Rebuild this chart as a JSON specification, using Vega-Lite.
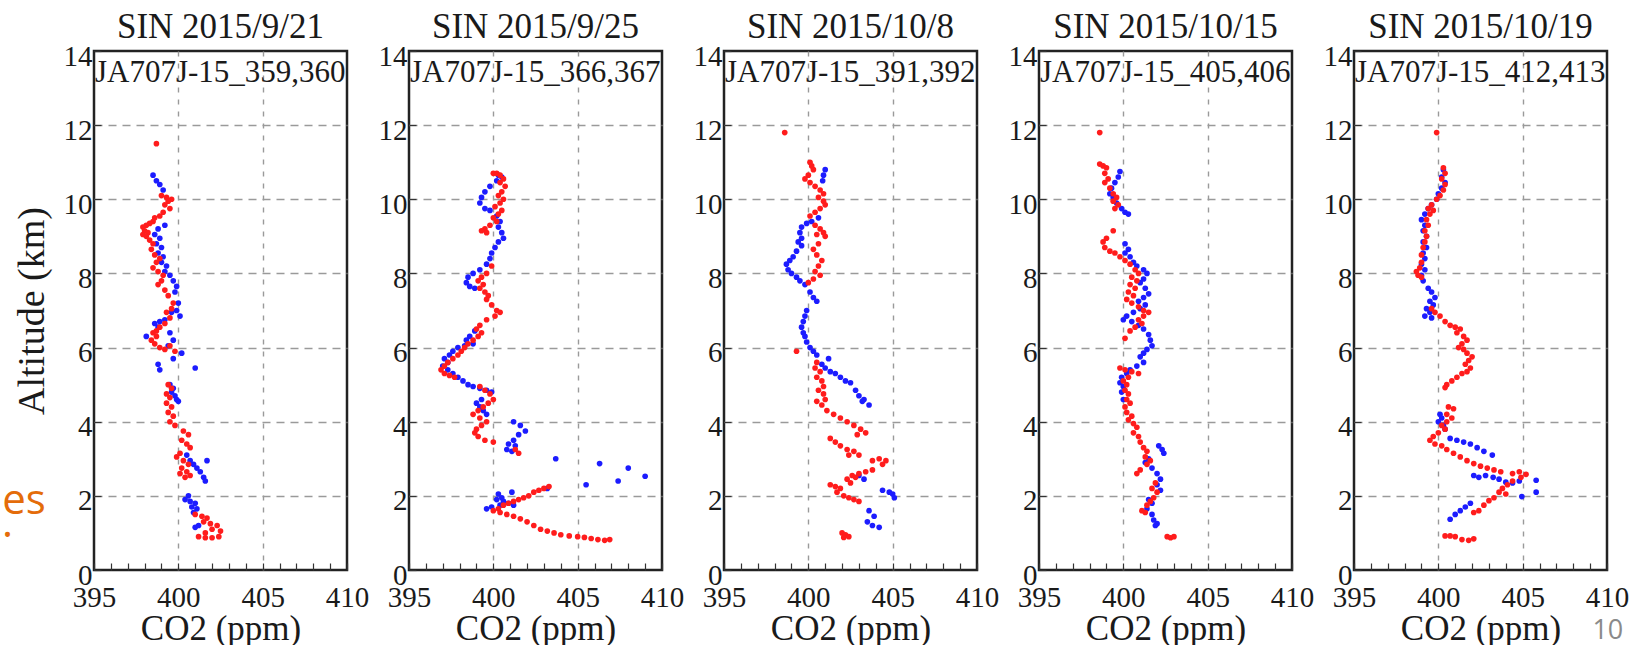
{
"$schema": "https://vega.github.io/schema/vega-lite/v6.json",
"background": "white",
"padding": {"left": 0, "top": 8, "right": 0, "bottom": 0},
"spacing": 62,
"bounds": "flush",
"config": {
  "font": "Liberation Serif",
  "view": {"stroke": "#222", "strokeWidth": 2.5},
  "title": {"font": "Liberation Serif", "fontSize": 35, "fontWeight": "normal", "color": "#1a1a1a", "baseline": "alphabetic", "offset": -3, "frame": "group", "anchor": "middle"},
  "axis": {"labelFont": "Liberation Serif", "titleFont": "Liberation Serif", "labelColor": "#1a1a1a", "titleColor": "#1a1a1a", "titleFontWeight": "normal", "labelFontSize": 29, "domain": false, "tickColor": "#333", "tickWidth": 1.2, "tickSize": -7, "labelFlush": false, "labelOverlap": false, "grid": true, "gridColor": "#9a9a9a", "gridWidth": 1.4},
  "axisX": {"labelPadding": 20, "titleFontSize": 35, "titlePadding": -1, "gridDash": [5, 7]},
  "axisY": {"labelPadding": 9, "labelOffset": 5, "titleFontSize": 38, "titlePadding": 12, "gridDash": [8, 6]}
},
"datasets": {
"labels": [
{"p":1,"lab":"JA707J-15_359,360"},{"p":2,"lab":"JA707J-15_366,367"},{"p":3,"lab":"JA707J-15_391,392"},{"p":4,"lab":"JA707J-15_405,406"},{"p":5,"lab":"JA707J-15_412,413"}
],
"profiles": [
{"p":1,"s":"a","co2":398.5,"alt":10.65},{"p":1,"s":"a","co2":398.7,"alt":10.5},{"p":1,"s":"a","co2":398.9,"alt":10.4},{"p":1,"s":"a","co2":399.1,"alt":10.25},{"p":1,"s":"a","co2":399.2,"alt":9.3},{"p":1,"s":"a","co2":398.8,"alt":9.2},{"p":1,"s":"a","co2":398.6,"alt":9.05},{"p":1,"s":"a","co2":398.9,"alt":8.95},{"p":1,"s":"a","co2":398.7,"alt":8.8},{"p":1,"s":"a","co2":399.0,"alt":8.7},{"p":1,"s":"a","co2":398.8,"alt":8.55},{"p":1,"s":"a","co2":399.1,"alt":8.45},{"p":1,"s":"a","co2":399.0,"alt":8.3},{"p":1,"s":"a","co2":399.3,"alt":8.2},{"p":1,"s":"a","co2":399.2,"alt":8.05},{"p":1,"s":"a","co2":399.5,"alt":7.95},{"p":1,"s":"a","co2":399.7,"alt":7.8},{"p":1,"s":"a","co2":399.9,"alt":7.65},{"p":1,"s":"a","co2":399.8,"alt":7.5},{"p":1,"s":"a","co2":400.0,"alt":7.2},{"p":1,"s":"a","co2":399.9,"alt":7.0},{"p":1,"s":"a","co2":400.1,"alt":6.85},{"p":1,"s":"a","co2":399.6,"alt":6.95},{"p":1,"s":"a","co2":399.2,"alt":6.75},{"p":1,"s":"a","co2":398.9,"alt":6.7},{"p":1,"s":"a","co2":398.6,"alt":6.65},{"p":1,"s":"a","co2":398.8,"alt":6.55},{"p":1,"s":"a","co2":398.1,"alt":6.3},{"p":1,"s":"a","co2":399.5,"alt":6.4},{"p":1,"s":"a","co2":399.7,"alt":6.2},{"p":1,"s":"a","co2":399.4,"alt":6.05},{"p":1,"s":"a","co2":400.2,"alt":5.85},{"p":1,"s":"a","co2":399.7,"alt":5.7},{"p":1,"s":"a","co2":398.8,"alt":5.55},{"p":1,"s":"a","co2":398.9,"alt":5.4},{"p":1,"s":"a","co2":401.0,"alt":5.45},{"p":1,"s":"a","co2":399.5,"alt":5.0},{"p":1,"s":"a","co2":399.7,"alt":4.9},{"p":1,"s":"a","co2":399.6,"alt":4.8},{"p":1,"s":"a","co2":399.8,"alt":4.7},{"p":1,"s":"a","co2":399.9,"alt":4.6},{"p":1,"s":"a","co2":400.0,"alt":4.55},{"p":1,"s":"a","co2":400.5,"alt":3.1},{"p":1,"s":"a","co2":400.7,"alt":2.95},{"p":1,"s":"a","co2":400.9,"alt":2.85},{"p":1,"s":"a","co2":401.1,"alt":2.75},{"p":1,"s":"a","co2":401.3,"alt":2.65},{"p":1,"s":"a","co2":401.5,"alt":2.5},{"p":1,"s":"a","co2":401.6,"alt":2.4},{"p":1,"s":"a","co2":401.7,"alt":2.95},{"p":1,"s":"a","co2":400.6,"alt":2.0},{"p":1,"s":"a","co2":400.4,"alt":1.9},{"p":1,"s":"a","co2":400.7,"alt":1.85},{"p":1,"s":"a","co2":401.0,"alt":1.8},{"p":1,"s":"a","co2":400.8,"alt":1.7},{"p":1,"s":"a","co2":401.1,"alt":1.65},{"p":1,"s":"a","co2":400.9,"alt":1.55},{"p":1,"s":"a","co2":401.2,"alt":1.2},{"p":1,"s":"a","co2":401.0,"alt":1.15},
{"p":1,"s":"b","co2":398.7,"alt":11.5},{"p":1,"s":"b","co2":399.0,"alt":10.1},{"p":1,"s":"b","co2":399.3,"alt":10.05},{"p":1,"s":"b","co2":399.6,"alt":10.0},{"p":1,"s":"b","co2":399.4,"alt":9.95},{"p":1,"s":"b","co2":399.2,"alt":9.85},{"p":1,"s":"b","co2":399.5,"alt":9.75},{"p":1,"s":"b","co2":399.1,"alt":9.65},{"p":1,"s":"b","co2":398.9,"alt":9.55},{"p":1,"s":"b","co2":398.6,"alt":9.5},{"p":1,"s":"b","co2":398.5,"alt":9.4},{"p":1,"s":"b","co2":398.3,"alt":9.35},{"p":1,"s":"b","co2":398.1,"alt":9.3},{"p":1,"s":"b","co2":397.9,"alt":9.25},{"p":1,"s":"b","co2":398.0,"alt":9.15},{"p":1,"s":"b","co2":398.2,"alt":9.1},{"p":1,"s":"b","co2":397.9,"alt":9.05},{"p":1,"s":"b","co2":398.1,"alt":9.0},{"p":1,"s":"b","co2":398.3,"alt":8.9},{"p":1,"s":"b","co2":398.5,"alt":8.8},{"p":1,"s":"b","co2":398.4,"alt":8.65},{"p":1,"s":"b","co2":398.6,"alt":8.5},{"p":1,"s":"b","co2":398.9,"alt":8.4},{"p":1,"s":"b","co2":398.7,"alt":8.3},{"p":1,"s":"b","co2":398.5,"alt":8.15},{"p":1,"s":"b","co2":398.8,"alt":8.05},{"p":1,"s":"b","co2":399.1,"alt":7.95},{"p":1,"s":"b","co2":399.0,"alt":7.8},{"p":1,"s":"b","co2":398.8,"alt":7.7},{"p":1,"s":"b","co2":399.2,"alt":7.55},{"p":1,"s":"b","co2":399.4,"alt":7.4},{"p":1,"s":"b","co2":399.7,"alt":7.2},{"p":1,"s":"b","co2":399.6,"alt":7.05},{"p":1,"s":"b","co2":399.3,"alt":6.95},{"p":1,"s":"b","co2":399.5,"alt":6.8},{"p":1,"s":"b","co2":399.2,"alt":6.65},{"p":1,"s":"b","co2":398.9,"alt":6.55},{"p":1,"s":"b","co2":398.7,"alt":6.45},{"p":1,"s":"b","co2":398.5,"alt":6.4},{"p":1,"s":"b","co2":398.7,"alt":6.3},{"p":1,"s":"b","co2":398.4,"alt":6.2},{"p":1,"s":"b","co2":398.6,"alt":6.1},{"p":1,"s":"b","co2":398.9,"alt":6.0},{"p":1,"s":"b","co2":399.2,"alt":5.95},{"p":1,"s":"b","co2":399.5,"alt":6.05},{"p":1,"s":"b","co2":399.8,"alt":5.9},{"p":1,"s":"b","co2":399.4,"alt":5.0},{"p":1,"s":"b","co2":399.6,"alt":4.9},{"p":1,"s":"b","co2":399.3,"alt":4.75},{"p":1,"s":"b","co2":399.5,"alt":4.65},{"p":1,"s":"b","co2":399.3,"alt":4.5},{"p":1,"s":"b","co2":399.6,"alt":4.4},{"p":1,"s":"b","co2":399.4,"alt":4.25},{"p":1,"s":"b","co2":399.7,"alt":4.15},{"p":1,"s":"b","co2":399.5,"alt":4.0},{"p":1,"s":"b","co2":399.8,"alt":3.9},{"p":1,"s":"b","co2":400.3,"alt":3.75},{"p":1,"s":"b","co2":400.6,"alt":3.65},{"p":1,"s":"b","co2":400.2,"alt":3.5},{"p":1,"s":"b","co2":400.5,"alt":3.4},{"p":1,"s":"b","co2":400.7,"alt":3.3},{"p":1,"s":"b","co2":400.1,"alt":3.15},{"p":1,"s":"b","co2":399.9,"alt":3.05},{"p":1,"s":"b","co2":400.3,"alt":2.95},{"p":1,"s":"b","co2":400.6,"alt":2.85},{"p":1,"s":"b","co2":400.2,"alt":2.75},{"p":1,"s":"b","co2":400.5,"alt":2.65},{"p":1,"s":"b","co2":400.1,"alt":2.6},{"p":1,"s":"b","co2":400.4,"alt":2.5},{"p":1,"s":"b","co2":400.7,"alt":2.55},{"p":1,"s":"b","co2":401.0,"alt":1.5},{"p":1,"s":"b","co2":401.4,"alt":1.45},{"p":1,"s":"b","co2":401.7,"alt":1.4},{"p":1,"s":"b","co2":401.5,"alt":1.3},{"p":1,"s":"b","co2":401.9,"alt":1.25},{"p":1,"s":"b","co2":402.3,"alt":1.2},{"p":1,"s":"b","co2":402.0,"alt":1.1},{"p":1,"s":"b","co2":401.6,"alt":1.0},{"p":1,"s":"b","co2":401.2,"alt":0.9},{"p":1,"s":"b","co2":401.6,"alt":0.87},{"p":1,"s":"b","co2":402.0,"alt":0.87},{"p":1,"s":"b","co2":402.4,"alt":0.9},{"p":1,"s":"b","co2":402.5,"alt":1.05},
{"p":2,"s":"a","co2":400.3,"alt":10.65},{"p":2,"s":"a","co2":400.5,"alt":10.6},{"p":2,"s":"a","co2":400.2,"alt":10.5},{"p":2,"s":"a","co2":399.8,"alt":10.35},{"p":2,"s":"a","co2":399.5,"alt":10.2},{"p":2,"s":"a","co2":399.3,"alt":10.05},{"p":2,"s":"a","co2":399.2,"alt":9.9},{"p":2,"s":"a","co2":399.5,"alt":9.75},{"p":2,"s":"a","co2":399.8,"alt":9.7},{"p":2,"s":"a","co2":400.2,"alt":9.55},{"p":2,"s":"a","co2":400.4,"alt":9.4},{"p":2,"s":"a","co2":400.3,"alt":9.25},{"p":2,"s":"a","co2":400.5,"alt":9.1},{"p":2,"s":"a","co2":400.6,"alt":8.95},{"p":2,"s":"a","co2":400.3,"alt":8.85},{"p":2,"s":"a","co2":400.1,"alt":8.7},{"p":2,"s":"a","co2":399.9,"alt":8.55},{"p":2,"s":"a","co2":399.8,"alt":8.4},{"p":2,"s":"a","co2":399.6,"alt":8.25},{"p":2,"s":"a","co2":399.2,"alt":8.1},{"p":2,"s":"a","co2":398.8,"alt":8.0},{"p":2,"s":"a","co2":398.5,"alt":7.9},{"p":2,"s":"a","co2":398.4,"alt":7.75},{"p":2,"s":"a","co2":398.6,"alt":7.65},{"p":2,"s":"a","co2":398.9,"alt":7.6},{"p":2,"s":"a","co2":398.9,"alt":6.45},{"p":2,"s":"a","co2":398.6,"alt":6.3},{"p":2,"s":"a","co2":398.4,"alt":6.2},{"p":2,"s":"a","co2":398.8,"alt":6.1},{"p":2,"s":"a","co2":398.3,"alt":6.05},{"p":2,"s":"a","co2":397.9,"alt":6.0},{"p":2,"s":"a","co2":397.6,"alt":5.9},{"p":2,"s":"a","co2":397.4,"alt":5.8},{"p":2,"s":"a","co2":397.1,"alt":5.7},{"p":2,"s":"a","co2":397.3,"alt":5.6},{"p":2,"s":"a","co2":397.0,"alt":5.5},{"p":2,"s":"a","co2":397.3,"alt":5.4},{"p":2,"s":"a","co2":397.6,"alt":5.3},{"p":2,"s":"a","co2":397.9,"alt":5.2},{"p":2,"s":"a","co2":398.2,"alt":5.1},{"p":2,"s":"a","co2":398.5,"alt":5.0},{"p":2,"s":"a","co2":398.8,"alt":4.95},{"p":2,"s":"a","co2":399.2,"alt":4.9},{"p":2,"s":"a","co2":399.6,"alt":4.85},{"p":2,"s":"a","co2":399.9,"alt":4.8},{"p":2,"s":"a","co2":399.3,"alt":4.6},{"p":2,"s":"a","co2":399.0,"alt":4.5},{"p":2,"s":"a","co2":399.2,"alt":4.4},{"p":2,"s":"a","co2":399.4,"alt":4.3},{"p":2,"s":"a","co2":399.6,"alt":4.2},{"p":2,"s":"a","co2":401.2,"alt":4.0},{"p":2,"s":"a","co2":401.6,"alt":3.9},{"p":2,"s":"a","co2":401.9,"alt":3.75},{"p":2,"s":"a","co2":401.5,"alt":3.65},{"p":2,"s":"a","co2":401.2,"alt":3.5},{"p":2,"s":"a","co2":400.9,"alt":3.4},{"p":2,"s":"a","co2":401.3,"alt":3.35},{"p":2,"s":"a","co2":400.8,"alt":3.25},{"p":2,"s":"a","co2":401.1,"alt":3.2},{"p":2,"s":"a","co2":403.7,"alt":3.0},{"p":2,"s":"a","co2":406.3,"alt":2.87},{"p":2,"s":"a","co2":408.0,"alt":2.75},{"p":2,"s":"a","co2":409.0,"alt":2.53},{"p":2,"s":"a","co2":407.4,"alt":2.4},{"p":2,"s":"a","co2":405.5,"alt":2.3},{"p":2,"s":"a","co2":403.2,"alt":2.2},{"p":2,"s":"a","co2":401.1,"alt":2.1},{"p":2,"s":"a","co2":400.3,"alt":2.05},{"p":2,"s":"a","co2":400.5,"alt":1.95},{"p":2,"s":"a","co2":400.2,"alt":1.9},{"p":2,"s":"a","co2":400.6,"alt":1.85},{"p":2,"s":"a","co2":400.9,"alt":1.8},{"p":2,"s":"a","co2":401.2,"alt":1.75},{"p":2,"s":"a","co2":400.4,"alt":1.75},{"p":2,"s":"a","co2":399.6,"alt":1.65},{"p":2,"s":"a","co2":399.9,"alt":1.7},
{"p":2,"s":"b","co2":400.0,"alt":10.7},{"p":2,"s":"b","co2":400.2,"alt":10.7},{"p":2,"s":"b","co2":400.4,"alt":10.65},{"p":2,"s":"b","co2":400.6,"alt":10.55},{"p":2,"s":"b","co2":400.4,"alt":10.45},{"p":2,"s":"b","co2":400.7,"alt":10.35},{"p":2,"s":"b","co2":400.5,"alt":10.2},{"p":2,"s":"b","co2":400.3,"alt":10.1},{"p":2,"s":"b","co2":400.6,"alt":10.0},{"p":2,"s":"b","co2":400.4,"alt":9.9},{"p":2,"s":"b","co2":400.1,"alt":9.8},{"p":2,"s":"b","co2":400.5,"alt":9.7},{"p":2,"s":"b","co2":400.3,"alt":9.6},{"p":2,"s":"b","co2":400.0,"alt":9.5},{"p":2,"s":"b","co2":400.2,"alt":9.4},{"p":2,"s":"b","co2":399.8,"alt":9.3},{"p":2,"s":"b","co2":399.5,"alt":9.2},{"p":2,"s":"b","co2":399.3,"alt":9.15},{"p":2,"s":"b","co2":399.6,"alt":9.1},{"p":2,"s":"b","co2":399.9,"alt":8.2},{"p":2,"s":"b","co2":399.6,"alt":8.0},{"p":2,"s":"b","co2":399.3,"alt":7.9},{"p":2,"s":"b","co2":399.1,"alt":7.8},{"p":2,"s":"b","co2":399.4,"alt":7.7},{"p":2,"s":"b","co2":399.2,"alt":7.6},{"p":2,"s":"b","co2":399.5,"alt":7.5},{"p":2,"s":"b","co2":399.7,"alt":7.4},{"p":2,"s":"b","co2":399.6,"alt":7.3},{"p":2,"s":"b","co2":399.9,"alt":7.15},{"p":2,"s":"b","co2":400.2,"alt":7.0},{"p":2,"s":"b","co2":400.4,"alt":6.95},{"p":2,"s":"b","co2":400.1,"alt":6.85},{"p":2,"s":"b","co2":399.6,"alt":6.75},{"p":2,"s":"b","co2":399.2,"alt":6.6},{"p":2,"s":"b","co2":399.0,"alt":6.5},{"p":2,"s":"b","co2":399.3,"alt":6.4},{"p":2,"s":"b","co2":399.1,"alt":6.3},{"p":2,"s":"b","co2":398.8,"alt":6.2},{"p":2,"s":"b","co2":398.5,"alt":6.1},{"p":2,"s":"b","co2":398.3,"alt":6.0},{"p":2,"s":"b","co2":398.1,"alt":5.9},{"p":2,"s":"b","co2":397.9,"alt":5.8},{"p":2,"s":"b","co2":397.6,"alt":5.7},{"p":2,"s":"b","co2":397.3,"alt":5.6},{"p":2,"s":"b","co2":397.1,"alt":5.5},{"p":2,"s":"b","co2":396.9,"alt":5.4},{"p":2,"s":"b","co2":397.1,"alt":5.3},{"p":2,"s":"b","co2":397.4,"alt":5.25},{"p":2,"s":"b","co2":397.7,"alt":5.2},{"p":2,"s":"b","co2":399.2,"alt":4.95},{"p":2,"s":"b","co2":399.5,"alt":4.85},{"p":2,"s":"b","co2":399.8,"alt":4.75},{"p":2,"s":"b","co2":400.0,"alt":4.6},{"p":2,"s":"b","co2":399.7,"alt":4.5},{"p":2,"s":"b","co2":399.4,"alt":4.4},{"p":2,"s":"b","co2":399.1,"alt":4.3},{"p":2,"s":"b","co2":398.8,"alt":4.2},{"p":2,"s":"b","co2":399.2,"alt":4.1},{"p":2,"s":"b","co2":399.6,"alt":4.0},{"p":2,"s":"b","co2":399.3,"alt":3.9},{"p":2,"s":"b","co2":399.0,"alt":3.8},{"p":2,"s":"b","co2":398.9,"alt":3.7},{"p":2,"s":"b","co2":399.1,"alt":3.6},{"p":2,"s":"b","co2":399.5,"alt":3.5},{"p":2,"s":"b","co2":400.0,"alt":3.45},{"p":2,"s":"b","co2":401.3,"alt":3.25},{"p":2,"s":"b","co2":401.5,"alt":3.15},{"p":2,"s":"b","co2":400.0,"alt":1.6},{"p":2,"s":"b","co2":400.3,"alt":1.65},{"p":2,"s":"b","co2":400.6,"alt":1.75},{"p":2,"s":"b","co2":400.9,"alt":1.8},{"p":2,"s":"b","co2":401.2,"alt":1.85},{"p":2,"s":"b","co2":401.5,"alt":1.9},{"p":2,"s":"b","co2":401.8,"alt":1.95},{"p":2,"s":"b","co2":402.1,"alt":2.0},{"p":2,"s":"b","co2":402.4,"alt":2.1},{"p":2,"s":"b","co2":402.7,"alt":2.15},{"p":2,"s":"b","co2":403.0,"alt":2.2},{"p":2,"s":"b","co2":403.3,"alt":2.25},{"p":2,"s":"b","co2":400.4,"alt":1.55},{"p":2,"s":"b","co2":400.8,"alt":1.5},{"p":2,"s":"b","co2":401.2,"alt":1.45},{"p":2,"s":"b","co2":401.6,"alt":1.38},{"p":2,"s":"b","co2":402.0,"alt":1.3},{"p":2,"s":"b","co2":402.4,"alt":1.2},{"p":2,"s":"b","co2":402.8,"alt":1.1},{"p":2,"s":"b","co2":403.2,"alt":1.05},{"p":2,"s":"b","co2":403.6,"alt":1.0},{"p":2,"s":"b","co2":404.0,"alt":0.95},{"p":2,"s":"b","co2":404.5,"alt":0.92},{"p":2,"s":"b","co2":405.0,"alt":0.9},{"p":2,"s":"b","co2":405.4,"alt":0.88},{"p":2,"s":"b","co2":405.8,"alt":0.85},{"p":2,"s":"b","co2":406.2,"alt":0.82},{"p":2,"s":"b","co2":406.6,"alt":0.8},{"p":2,"s":"b","co2":406.9,"alt":0.82},
{"p":3,"s":"a","co2":401.0,"alt":10.8},{"p":3,"s":"a","co2":400.9,"alt":10.65},{"p":3,"s":"a","co2":400.85,"alt":10.5},{"p":3,"s":"a","co2":400.6,"alt":9.5},{"p":3,"s":"a","co2":400.2,"alt":9.4},{"p":3,"s":"a","co2":399.9,"alt":9.35},{"p":3,"s":"a","co2":399.6,"alt":9.25},{"p":3,"s":"a","co2":399.5,"alt":9.1},{"p":3,"s":"a","co2":399.6,"alt":8.95},{"p":3,"s":"a","co2":399.4,"alt":8.85},{"p":3,"s":"a","co2":399.6,"alt":8.75},{"p":3,"s":"a","co2":399.3,"alt":8.6},{"p":3,"s":"a","co2":399.1,"alt":8.45},{"p":3,"s":"a","co2":398.9,"alt":8.35},{"p":3,"s":"a","co2":398.7,"alt":8.25},{"p":3,"s":"a","co2":398.8,"alt":8.1},{"p":3,"s":"a","co2":399.0,"alt":8.0},{"p":3,"s":"a","co2":399.3,"alt":7.9},{"p":3,"s":"a","co2":399.5,"alt":7.8},{"p":3,"s":"a","co2":399.8,"alt":7.7},{"p":3,"s":"a","co2":400.1,"alt":7.5},{"p":3,"s":"a","co2":400.3,"alt":7.35},{"p":3,"s":"a","co2":400.5,"alt":7.25},{"p":3,"s":"a","co2":399.9,"alt":7.0},{"p":3,"s":"a","co2":399.8,"alt":6.85},{"p":3,"s":"a","co2":399.7,"alt":6.7},{"p":3,"s":"a","co2":399.6,"alt":6.55},{"p":3,"s":"a","co2":399.7,"alt":6.4},{"p":3,"s":"a","co2":399.8,"alt":6.3},{"p":3,"s":"a","co2":399.9,"alt":6.15},{"p":3,"s":"a","co2":400.1,"alt":6.0},{"p":3,"s":"a","co2":400.3,"alt":5.9},{"p":3,"s":"a","co2":400.5,"alt":5.8},{"p":3,"s":"a","co2":401.2,"alt":5.7},{"p":3,"s":"a","co2":400.8,"alt":5.55},{"p":3,"s":"a","co2":401.0,"alt":5.45},{"p":3,"s":"a","co2":401.3,"alt":5.35},{"p":3,"s":"a","co2":401.6,"alt":5.3},{"p":3,"s":"a","co2":401.9,"alt":5.2},{"p":3,"s":"a","co2":402.2,"alt":5.1},{"p":3,"s":"a","co2":402.5,"alt":5.05},{"p":3,"s":"a","co2":402.8,"alt":4.85},{"p":3,"s":"a","co2":403.0,"alt":4.7},{"p":3,"s":"a","co2":403.3,"alt":4.6},{"p":3,"s":"a","co2":403.6,"alt":4.45},{"p":3,"s":"a","co2":403.2,"alt":4.55},{"p":3,"s":"a","co2":403.0,"alt":2.55},{"p":3,"s":"a","co2":403.3,"alt":2.45},{"p":3,"s":"a","co2":404.4,"alt":2.15},{"p":3,"s":"a","co2":404.8,"alt":2.1},{"p":3,"s":"a","co2":405.1,"alt":1.95},{"p":3,"s":"a","co2":405.0,"alt":2.05},{"p":3,"s":"a","co2":403.6,"alt":1.6},{"p":3,"s":"a","co2":403.9,"alt":1.45},{"p":3,"s":"a","co2":403.5,"alt":1.3},{"p":3,"s":"a","co2":403.8,"alt":1.2},{"p":3,"s":"a","co2":404.2,"alt":1.15},
{"p":3,"s":"b","co2":398.6,"alt":11.8},{"p":3,"s":"b","co2":400.1,"alt":11.0},{"p":3,"s":"b","co2":400.2,"alt":10.9},{"p":3,"s":"b","co2":400.3,"alt":10.8},{"p":3,"s":"b","co2":400.0,"alt":10.65},{"p":3,"s":"b","co2":399.8,"alt":10.55},{"p":3,"s":"b","co2":400.1,"alt":10.45},{"p":3,"s":"b","co2":400.4,"alt":10.35},{"p":3,"s":"b","co2":400.7,"alt":10.25},{"p":3,"s":"b","co2":400.9,"alt":10.15},{"p":3,"s":"b","co2":400.6,"alt":10.05},{"p":3,"s":"b","co2":400.9,"alt":9.95},{"p":3,"s":"b","co2":401.0,"alt":9.85},{"p":3,"s":"b","co2":400.7,"alt":9.75},{"p":3,"s":"b","co2":400.4,"alt":9.65},{"p":3,"s":"b","co2":400.1,"alt":9.55},{"p":3,"s":"b","co2":400.4,"alt":9.3},{"p":3,"s":"b","co2":400.7,"alt":9.2},{"p":3,"s":"b","co2":400.9,"alt":9.1},{"p":3,"s":"b","co2":400.5,"alt":9.05},{"p":3,"s":"b","co2":401.0,"alt":9.0},{"p":3,"s":"b","co2":400.6,"alt":8.8},{"p":3,"s":"b","co2":400.3,"alt":8.65},{"p":3,"s":"b","co2":400.5,"alt":8.5},{"p":3,"s":"b","co2":400.8,"alt":8.35},{"p":3,"s":"b","co2":400.6,"alt":8.2},{"p":3,"s":"b","co2":400.4,"alt":8.05},{"p":3,"s":"b","co2":400.7,"alt":7.95},{"p":3,"s":"b","co2":400.3,"alt":7.85},{"p":3,"s":"b","co2":400.0,"alt":7.75},{"p":3,"s":"b","co2":399.3,"alt":5.9},{"p":3,"s":"b","co2":400.5,"alt":5.6},{"p":3,"s":"b","co2":400.4,"alt":5.45},{"p":3,"s":"b","co2":400.7,"alt":5.35},{"p":3,"s":"b","co2":400.5,"alt":5.2},{"p":3,"s":"b","co2":400.8,"alt":5.1},{"p":3,"s":"b","co2":400.9,"alt":4.95},{"p":3,"s":"b","co2":400.6,"alt":4.85},{"p":3,"s":"b","co2":400.9,"alt":4.75},{"p":3,"s":"b","co2":401.0,"alt":4.6},{"p":3,"s":"b","co2":400.5,"alt":4.55},{"p":3,"s":"b","co2":400.8,"alt":4.45},{"p":3,"s":"b","co2":401.1,"alt":4.3},{"p":3,"s":"b","co2":401.5,"alt":4.2},{"p":3,"s":"b","co2":401.9,"alt":4.1},{"p":3,"s":"b","co2":402.3,"alt":4.0},{"p":3,"s":"b","co2":402.7,"alt":3.9},{"p":3,"s":"b","co2":403.1,"alt":3.8},{"p":3,"s":"b","co2":403.4,"alt":3.7},{"p":3,"s":"b","co2":402.9,"alt":3.65},{"p":3,"s":"b","co2":401.3,"alt":3.55},{"p":3,"s":"b","co2":401.6,"alt":3.45},{"p":3,"s":"b","co2":401.9,"alt":3.35},{"p":3,"s":"b","co2":402.3,"alt":3.25},{"p":3,"s":"b","co2":402.7,"alt":3.2},{"p":3,"s":"b","co2":403.0,"alt":3.1},{"p":3,"s":"b","co2":402.4,"alt":3.1},{"p":3,"s":"b","co2":403.8,"alt":2.95},{"p":3,"s":"b","co2":404.2,"alt":3.0},{"p":3,"s":"b","co2":404.6,"alt":2.95},{"p":3,"s":"b","co2":404.4,"alt":2.85},{"p":3,"s":"b","co2":403.8,"alt":2.7},{"p":3,"s":"b","co2":403.4,"alt":2.65},{"p":3,"s":"b","co2":403.0,"alt":2.6},{"p":3,"s":"b","co2":402.6,"alt":2.55},{"p":3,"s":"b","co2":402.3,"alt":2.45},{"p":3,"s":"b","co2":402.5,"alt":2.35},{"p":3,"s":"b","co2":402.8,"alt":2.5},{"p":3,"s":"b","co2":401.3,"alt":2.3},{"p":3,"s":"b","co2":401.6,"alt":2.25},{"p":3,"s":"b","co2":401.9,"alt":2.2},{"p":3,"s":"b","co2":401.7,"alt":2.1},{"p":3,"s":"b","co2":402.1,"alt":2.0},{"p":3,"s":"b","co2":402.4,"alt":1.95},{"p":3,"s":"b","co2":402.7,"alt":1.9},{"p":3,"s":"b","co2":403.0,"alt":1.85},{"p":3,"s":"b","co2":402.0,"alt":1.0},{"p":3,"s":"b","co2":402.2,"alt":0.95},{"p":3,"s":"b","co2":402.4,"alt":0.9},{"p":3,"s":"b","co2":402.1,"alt":0.88},
{"p":4,"s":"a","co2":399.8,"alt":10.75},{"p":4,"s":"a","co2":399.7,"alt":10.6},{"p":4,"s":"a","co2":399.5,"alt":10.45},{"p":4,"s":"a","co2":399.3,"alt":10.3},{"p":4,"s":"a","co2":399.2,"alt":10.15},{"p":4,"s":"a","co2":399.4,"alt":10.05},{"p":4,"s":"a","co2":399.6,"alt":9.9},{"p":4,"s":"a","co2":399.9,"alt":9.75},{"p":4,"s":"a","co2":400.1,"alt":9.65},{"p":4,"s":"a","co2":400.3,"alt":9.6},{"p":4,"s":"a","co2":400.1,"alt":8.8},{"p":4,"s":"a","co2":400.3,"alt":8.65},{"p":4,"s":"a","co2":400.1,"alt":8.55},{"p":4,"s":"a","co2":400.4,"alt":8.45},{"p":4,"s":"a","co2":400.6,"alt":8.3},{"p":4,"s":"a","co2":400.8,"alt":8.2},{"p":4,"s":"a","co2":401.2,"alt":8.1},{"p":4,"s":"a","co2":401.4,"alt":8.0},{"p":4,"s":"a","co2":401.2,"alt":7.85},{"p":4,"s":"a","co2":401.0,"alt":7.75},{"p":4,"s":"a","co2":401.3,"alt":7.6},{"p":4,"s":"a","co2":401.5,"alt":7.45},{"p":4,"s":"a","co2":401.2,"alt":7.35},{"p":4,"s":"a","co2":400.9,"alt":7.25},{"p":4,"s":"a","co2":401.3,"alt":7.15},{"p":4,"s":"a","co2":401.0,"alt":7.05},{"p":4,"s":"a","co2":400.6,"alt":6.95},{"p":4,"s":"a","co2":400.2,"alt":6.85},{"p":4,"s":"a","co2":400.0,"alt":6.75},{"p":4,"s":"a","co2":400.5,"alt":6.7},{"p":4,"s":"a","co2":400.9,"alt":6.6},{"p":4,"s":"a","co2":401.2,"alt":6.5},{"p":4,"s":"a","co2":401.5,"alt":6.35},{"p":4,"s":"a","co2":401.6,"alt":6.2},{"p":4,"s":"a","co2":401.7,"alt":6.05},{"p":4,"s":"a","co2":401.4,"alt":5.95},{"p":4,"s":"a","co2":401.2,"alt":5.85},{"p":4,"s":"a","co2":401.0,"alt":5.75},{"p":4,"s":"a","co2":401.2,"alt":5.6},{"p":4,"s":"a","co2":400.8,"alt":5.5},{"p":4,"s":"a","co2":400.4,"alt":5.4},{"p":4,"s":"a","co2":400.2,"alt":5.3},{"p":4,"s":"a","co2":399.9,"alt":5.2},{"p":4,"s":"a","co2":399.8,"alt":5.05},{"p":4,"s":"a","co2":400.0,"alt":4.95},{"p":4,"s":"a","co2":399.9,"alt":4.8},{"p":4,"s":"a","co2":400.0,"alt":4.6},{"p":4,"s":"a","co2":402.1,"alt":3.35},{"p":4,"s":"a","co2":402.3,"alt":3.25},{"p":4,"s":"a","co2":402.4,"alt":3.15},{"p":4,"s":"a","co2":401.5,"alt":3.0},{"p":4,"s":"a","co2":401.3,"alt":2.9},{"p":4,"s":"a","co2":401.7,"alt":2.75},{"p":4,"s":"a","co2":402.0,"alt":2.6},{"p":4,"s":"a","co2":402.2,"alt":2.45},{"p":4,"s":"a","co2":402.0,"alt":2.3},{"p":4,"s":"a","co2":402.2,"alt":2.15},{"p":4,"s":"a","co2":401.5,"alt":1.9},{"p":4,"s":"a","co2":401.7,"alt":1.8},{"p":4,"s":"a","co2":401.4,"alt":1.65},{"p":4,"s":"a","co2":401.7,"alt":1.5},{"p":4,"s":"a","co2":401.8,"alt":1.35},{"p":4,"s":"a","co2":402.0,"alt":1.25},{"p":4,"s":"a","co2":401.9,"alt":1.2},
{"p":4,"s":"b","co2":398.6,"alt":11.8},{"p":4,"s":"b","co2":398.6,"alt":10.95},{"p":4,"s":"b","co2":398.8,"alt":10.9},{"p":4,"s":"b","co2":399.0,"alt":10.85},{"p":4,"s":"b","co2":398.9,"alt":10.7},{"p":4,"s":"b","co2":399.1,"alt":10.55},{"p":4,"s":"b","co2":398.9,"alt":10.45},{"p":4,"s":"b","co2":399.2,"alt":10.3},{"p":4,"s":"b","co2":399.4,"alt":10.15},{"p":4,"s":"b","co2":399.6,"alt":10.05},{"p":4,"s":"b","co2":399.4,"alt":9.95},{"p":4,"s":"b","co2":399.7,"alt":9.85},{"p":4,"s":"b","co2":399.5,"alt":9.75},{"p":4,"s":"b","co2":399.4,"alt":9.15},{"p":4,"s":"b","co2":399.0,"alt":8.95},{"p":4,"s":"b","co2":398.8,"alt":8.85},{"p":4,"s":"b","co2":398.9,"alt":8.7},{"p":4,"s":"b","co2":399.2,"alt":8.6},{"p":4,"s":"b","co2":399.5,"alt":8.55},{"p":4,"s":"b","co2":399.8,"alt":8.45},{"p":4,"s":"b","co2":400.1,"alt":8.35},{"p":4,"s":"b","co2":400.4,"alt":8.25},{"p":4,"s":"b","co2":400.7,"alt":8.1},{"p":4,"s":"b","co2":400.9,"alt":8.0},{"p":4,"s":"b","co2":400.5,"alt":7.9},{"p":4,"s":"b","co2":400.8,"alt":7.8},{"p":4,"s":"b","co2":400.4,"alt":7.7},{"p":4,"s":"b","co2":400.7,"alt":7.6},{"p":4,"s":"b","co2":400.3,"alt":7.5},{"p":4,"s":"b","co2":400.6,"alt":7.4},{"p":4,"s":"b","co2":400.2,"alt":7.3},{"p":4,"s":"b","co2":400.5,"alt":7.2},{"p":4,"s":"b","co2":400.9,"alt":7.1},{"p":4,"s":"b","co2":401.2,"alt":7.0},{"p":4,"s":"b","co2":401.5,"alt":6.95},{"p":4,"s":"b","co2":401.2,"alt":6.85},{"p":4,"s":"b","co2":400.9,"alt":6.75},{"p":4,"s":"b","co2":401.1,"alt":6.65},{"p":4,"s":"b","co2":400.7,"alt":6.55},{"p":4,"s":"b","co2":400.4,"alt":6.45},{"p":4,"s":"b","co2":400.1,"alt":6.25},{"p":4,"s":"b","co2":399.8,"alt":5.45},{"p":4,"s":"b","co2":400.1,"alt":5.4},{"p":4,"s":"b","co2":400.5,"alt":5.35},{"p":4,"s":"b","co2":400.9,"alt":5.3},{"p":4,"s":"b","co2":400.3,"alt":5.2},{"p":4,"s":"b","co2":400.0,"alt":5.1},{"p":4,"s":"b","co2":400.2,"alt":5.0},{"p":4,"s":"b","co2":400.1,"alt":4.85},{"p":4,"s":"b","co2":400.3,"alt":4.75},{"p":4,"s":"b","co2":400.2,"alt":4.6},{"p":4,"s":"b","co2":400.4,"alt":4.5},{"p":4,"s":"b","co2":400.1,"alt":4.4},{"p":4,"s":"b","co2":400.2,"alt":4.25},{"p":4,"s":"b","co2":400.5,"alt":4.15},{"p":4,"s":"b","co2":400.3,"alt":4.05},{"p":4,"s":"b","co2":400.6,"alt":3.95},{"p":4,"s":"b","co2":400.8,"alt":3.85},{"p":4,"s":"b","co2":400.6,"alt":3.7},{"p":4,"s":"b","co2":400.9,"alt":3.6},{"p":4,"s":"b","co2":401.0,"alt":3.45},{"p":4,"s":"b","co2":401.2,"alt":3.3},{"p":4,"s":"b","co2":401.4,"alt":3.2},{"p":4,"s":"b","co2":401.3,"alt":3.05},{"p":4,"s":"b","co2":401.6,"alt":2.95},{"p":4,"s":"b","co2":401.4,"alt":2.85},{"p":4,"s":"b","co2":400.8,"alt":2.6},{"p":4,"s":"b","co2":401.0,"alt":2.7},{"p":4,"s":"b","co2":401.9,"alt":2.35},{"p":4,"s":"b","co2":401.7,"alt":2.2},{"p":4,"s":"b","co2":402.0,"alt":2.1},{"p":4,"s":"b","co2":401.8,"alt":1.95},{"p":4,"s":"b","co2":401.6,"alt":1.85},{"p":4,"s":"b","co2":401.4,"alt":1.75},{"p":4,"s":"b","co2":401.1,"alt":1.6},{"p":4,"s":"b","co2":401.3,"alt":1.55},{"p":4,"s":"b","co2":402.6,"alt":0.9},{"p":4,"s":"b","co2":402.8,"alt":0.87},{"p":4,"s":"b","co2":403.0,"alt":0.9},
{"p":5,"s":"a","co2":400.3,"alt":10.8},{"p":5,"s":"a","co2":400.2,"alt":10.6},{"p":5,"s":"a","co2":400.4,"alt":10.45},{"p":5,"s":"a","co2":400.2,"alt":10.3},{"p":5,"s":"a","co2":400.0,"alt":10.15},{"p":5,"s":"a","co2":399.9,"alt":10.0},{"p":5,"s":"a","co2":399.6,"alt":9.85},{"p":5,"s":"a","co2":399.4,"alt":9.75},{"p":5,"s":"a","co2":399.2,"alt":9.6},{"p":5,"s":"a","co2":399.0,"alt":9.45},{"p":5,"s":"a","co2":399.2,"alt":9.3},{"p":5,"s":"a","co2":399.1,"alt":9.15},{"p":5,"s":"a","co2":399.3,"alt":9.0},{"p":5,"s":"a","co2":399.1,"alt":8.85},{"p":5,"s":"a","co2":399.3,"alt":8.7},{"p":5,"s":"a","co2":399.1,"alt":8.55},{"p":5,"s":"a","co2":399.2,"alt":8.4},{"p":5,"s":"a","co2":399.0,"alt":8.25},{"p":5,"s":"a","co2":399.2,"alt":8.1},{"p":5,"s":"a","co2":399.0,"alt":7.95},{"p":5,"s":"a","co2":399.1,"alt":7.8},{"p":5,"s":"a","co2":399.4,"alt":7.6},{"p":5,"s":"a","co2":399.6,"alt":7.5},{"p":5,"s":"a","co2":399.8,"alt":7.35},{"p":5,"s":"a","co2":399.5,"alt":7.25},{"p":5,"s":"a","co2":399.7,"alt":7.15},{"p":5,"s":"a","co2":399.3,"alt":7.05},{"p":5,"s":"a","co2":399.5,"alt":6.95},{"p":5,"s":"a","co2":399.2,"alt":6.85},{"p":5,"s":"a","co2":399.6,"alt":6.8},{"p":5,"s":"a","co2":400.1,"alt":4.2},{"p":5,"s":"a","co2":400.2,"alt":4.1},{"p":5,"s":"a","co2":400.0,"alt":4.0},{"p":5,"s":"a","co2":400.3,"alt":3.9},{"p":5,"s":"a","co2":400.4,"alt":3.8},{"p":5,"s":"a","co2":400.7,"alt":3.55},{"p":5,"s":"a","co2":401.1,"alt":3.5},{"p":5,"s":"a","co2":401.5,"alt":3.45},{"p":5,"s":"a","co2":401.9,"alt":3.4},{"p":5,"s":"a","co2":402.3,"alt":3.3},{"p":5,"s":"a","co2":402.7,"alt":3.2},{"p":5,"s":"a","co2":403.2,"alt":3.1},{"p":5,"s":"a","co2":402.1,"alt":2.55},{"p":5,"s":"a","co2":402.4,"alt":2.5},{"p":5,"s":"a","co2":402.8,"alt":2.55},{"p":5,"s":"a","co2":403.25,"alt":2.5},{"p":5,"s":"a","co2":403.6,"alt":2.45},{"p":5,"s":"a","co2":404.0,"alt":2.37},{"p":5,"s":"a","co2":404.4,"alt":2.35},{"p":5,"s":"a","co2":404.8,"alt":2.4},{"p":5,"s":"a","co2":405.8,"alt":2.42},{"p":5,"s":"a","co2":405.8,"alt":2.1},{"p":5,"s":"a","co2":404.95,"alt":1.98},{"p":5,"s":"a","co2":401.6,"alt":1.7},{"p":5,"s":"a","co2":401.9,"alt":1.8},{"p":5,"s":"a","co2":401.3,"alt":1.6},{"p":5,"s":"a","co2":401.0,"alt":1.5},{"p":5,"s":"a","co2":400.7,"alt":1.37},
{"p":5,"s":"b","co2":399.9,"alt":11.8},{"p":5,"s":"b","co2":400.3,"alt":10.85},{"p":5,"s":"b","co2":400.4,"alt":10.7},{"p":5,"s":"b","co2":400.2,"alt":10.55},{"p":5,"s":"b","co2":400.4,"alt":10.4},{"p":5,"s":"b","co2":400.3,"alt":10.25},{"p":5,"s":"b","co2":400.1,"alt":10.1},{"p":5,"s":"b","co2":399.9,"alt":10.0},{"p":5,"s":"b","co2":399.6,"alt":9.85},{"p":5,"s":"b","co2":399.4,"alt":9.75},{"p":5,"s":"b","co2":399.7,"alt":9.7},{"p":5,"s":"b","co2":399.5,"alt":9.6},{"p":5,"s":"b","co2":399.3,"alt":9.45},{"p":5,"s":"b","co2":399.4,"alt":9.3},{"p":5,"s":"b","co2":399.2,"alt":9.15},{"p":5,"s":"b","co2":399.3,"alt":9.0},{"p":5,"s":"b","co2":399.2,"alt":8.85},{"p":5,"s":"b","co2":399.1,"alt":8.7},{"p":5,"s":"b","co2":399.0,"alt":8.5},{"p":5,"s":"b","co2":399.0,"alt":8.3},{"p":5,"s":"b","co2":398.9,"alt":8.15},{"p":5,"s":"b","co2":398.7,"alt":8.05},{"p":5,"s":"b","co2":398.8,"alt":7.95},{"p":5,"s":"b","co2":399.0,"alt":7.9},{"p":5,"s":"b","co2":399.6,"alt":7.05},{"p":5,"s":"b","co2":399.8,"alt":6.95},{"p":5,"s":"b","co2":400.1,"alt":6.85},{"p":5,"s":"b","co2":400.4,"alt":6.7},{"p":5,"s":"b","co2":400.7,"alt":6.6},{"p":5,"s":"b","co2":401.0,"alt":6.55},{"p":5,"s":"b","co2":401.3,"alt":6.5},{"p":5,"s":"b","co2":401.1,"alt":6.4},{"p":5,"s":"b","co2":401.5,"alt":6.3},{"p":5,"s":"b","co2":401.7,"alt":6.2},{"p":5,"s":"b","co2":401.4,"alt":6.1},{"p":5,"s":"b","co2":401.2,"alt":6.0},{"p":5,"s":"b","co2":401.5,"alt":5.95},{"p":5,"s":"b","co2":401.7,"alt":5.85},{"p":5,"s":"b","co2":402.0,"alt":5.75},{"p":5,"s":"b","co2":401.8,"alt":5.65},{"p":5,"s":"b","co2":401.6,"alt":5.55},{"p":5,"s":"b","co2":401.9,"alt":5.45},{"p":5,"s":"b","co2":401.7,"alt":5.35},{"p":5,"s":"b","co2":401.4,"alt":5.3},{"p":5,"s":"b","co2":401.1,"alt":5.2},{"p":5,"s":"b","co2":400.8,"alt":5.1},{"p":5,"s":"b","co2":400.5,"alt":5.0},{"p":5,"s":"b","co2":400.4,"alt":4.92},{"p":5,"s":"b","co2":400.6,"alt":4.4},{"p":5,"s":"b","co2":400.9,"alt":4.35},{"p":5,"s":"b","co2":400.5,"alt":4.2},{"p":5,"s":"b","co2":400.8,"alt":4.1},{"p":5,"s":"b","co2":400.5,"alt":4.0},{"p":5,"s":"b","co2":400.2,"alt":3.9},{"p":5,"s":"b","co2":400.4,"alt":3.8},{"p":5,"s":"b","co2":400.0,"alt":3.7},{"p":5,"s":"b","co2":399.7,"alt":3.6},{"p":5,"s":"b","co2":399.5,"alt":3.5},{"p":5,"s":"b","co2":399.8,"alt":3.4},{"p":5,"s":"b","co2":400.2,"alt":3.35},{"p":5,"s":"b","co2":400.5,"alt":3.25},{"p":5,"s":"b","co2":400.9,"alt":3.15},{"p":5,"s":"b","co2":401.3,"alt":3.05},{"p":5,"s":"b","co2":401.7,"alt":2.95},{"p":5,"s":"b","co2":402.1,"alt":2.87},{"p":5,"s":"b","co2":402.5,"alt":2.8},{"p":5,"s":"b","co2":402.9,"alt":2.75},{"p":5,"s":"b","co2":403.3,"alt":2.7},{"p":5,"s":"b","co2":403.7,"alt":2.65},{"p":5,"s":"b","co2":404.4,"alt":2.6},{"p":5,"s":"b","co2":404.8,"alt":2.65},{"p":5,"s":"b","co2":405.2,"alt":2.58},{"p":5,"s":"b","co2":404.9,"alt":2.5},{"p":5,"s":"b","co2":404.4,"alt":2.4},{"p":5,"s":"b","co2":404.1,"alt":2.3},{"p":5,"s":"b","co2":403.8,"alt":2.2},{"p":5,"s":"b","co2":403.6,"alt":2.1},{"p":5,"s":"b","co2":404.0,"alt":2.05},{"p":5,"s":"b","co2":403.3,"alt":1.95},{"p":5,"s":"b","co2":403.0,"alt":1.87},{"p":5,"s":"b","co2":402.7,"alt":1.75},{"p":5,"s":"b","co2":402.4,"alt":1.6},{"p":5,"s":"b","co2":402.1,"alt":1.55},{"p":5,"s":"b","co2":400.4,"alt":0.92},{"p":5,"s":"b","co2":400.7,"alt":0.92},{"p":5,"s":"b","co2":401.0,"alt":0.9},{"p":5,"s":"b","co2":401.4,"alt":0.82},{"p":5,"s":"b","co2":401.8,"alt":0.8},{"p":5,"s":"b","co2":402.1,"alt":0.84}
]
},
"hconcat": [
{
 "title": "SIN 2015/9/21", "width": 253, "height": 519,
 "layer": [
  {"data": {"name": "profiles"}, "transform": [{"filter": "datum.p === 1"}],
   "mark": {"type": "circle", "size": 32, "opacity": 1, "clip": true},
   "encoding": {
    "x": {"field": "co2", "type": "quantitative", "scale": {"domain": [395, 410], "nice": false, "zero": false},
      "axis": {"title": "CO2 (ppm)", "values": [395,396,397,398,399,400,401,402,403,404,405,406,407,408,409,410], "labelExpr": "datum.value % 5 === 0 ? datum.label : ''", "gridOpacity": {"condition": {"test": "datum.value === 400 || datum.value === 405", "value": 1}, "value": 0}}},
    "y": {"field": "alt", "type": "quantitative", "scale": {"domain": [0, 14], "nice": false, "zero": false},
      "axis": {"title": "Altitude (km)", "values": [0,2,4,6,8,10,12,14], "gridOpacity": {"condition": {"test": "datum.value > 0 && datum.value < 14", "value": 1}, "value": 0}}},
    "color": {"field": "s", "type": "nominal", "scale": {"domain": ["a", "b"], "range": ["#1c1cff", "#ff1c1c"]}, "legend": null}
   }},
  {"data": {"name": "labels"}, "transform": [{"filter": "datum.p === 1"}],
   "mark": {"type": "text", "align": "left", "baseline": "top", "dx": 1, "dy": 7, "font": "Liberation Serif", "fontSize": 31, "color": "#1a1a1a"},
   "encoding": {
    "x": {"datum": 395, "type": "quantitative", "axis": {"title": "CO2 (ppm)", "values": [395,396,397,398,399,400,401,402,403,404,405,406,407,408,409,410], "labelExpr": "datum.value % 5 === 0 ? datum.label : ''", "gridOpacity": {"condition": {"test": "datum.value === 400 || datum.value === 405", "value": 1}, "value": 0}}},
    "y": {"datum": 14, "type": "quantitative", "axis": {"title": "Altitude (km)", "values": [0,2,4,6,8,10,12,14], "gridOpacity": {"condition": {"test": "datum.value > 0 && datum.value < 14", "value": 1}, "value": 0}}},
    "text": {"field": "lab"}}},
  {"data": {"values": [{"t": "es"}]},
   "mark": {"type": "text", "align": "right", "baseline": "alphabetic", "font": "Open Sans", "fontSize": 42, "color": "#E46C0A"},
   "encoding": {
    "x": {"datum": 392.14, "type": "quantitative", "axis": {"title": "CO2 (ppm)", "values": [395,396,397,398,399,400,401,402,403,404,405,406,407,408,409,410], "labelExpr": "datum.value % 5 === 0 ? datum.label : ''", "gridOpacity": {"condition": {"test": "datum.value === 400 || datum.value === 405", "value": 1}, "value": 0}}},
    "y": {"datum": 1.5, "type": "quantitative", "axis": {"title": "Altitude (km)", "values": [0,2,4,6,8,10,12,14], "gridOpacity": {"condition": {"test": "datum.value > 0 && datum.value < 14", "value": 1}, "value": 0}}},
    "text": {"field": "t"}}},
  {"data": {"values": [{"t": "."}]},
   "mark": {"type": "text", "align": "right", "baseline": "alphabetic", "font": "Open Sans", "fontSize": 42, "color": "#E46C0A"},
   "encoding": {
    "x": {"datum": 390.2, "type": "quantitative", "axis": {"title": "CO2 (ppm)", "values": [395,396,397,398,399,400,401,402,403,404,405,406,407,408,409,410], "labelExpr": "datum.value % 5 === 0 ? datum.label : ''", "gridOpacity": {"condition": {"test": "datum.value === 400 || datum.value === 405", "value": 1}, "value": 0}}},
    "y": {"datum": 0.9, "type": "quantitative", "axis": {"title": "Altitude (km)", "values": [0,2,4,6,8,10,12,14], "gridOpacity": {"condition": {"test": "datum.value > 0 && datum.value < 14", "value": 1}, "value": 0}}},
    "text": {"field": "t"}}}
 ]
},
{
 "title": "SIN 2015/9/25", "width": 253, "height": 519,
 "layer": [
  {"data": {"name": "profiles"}, "transform": [{"filter": "datum.p === 2"}],
   "mark": {"type": "circle", "size": 32, "opacity": 1, "clip": true},
   "encoding": {
    "x": {"field": "co2", "type": "quantitative", "scale": {"domain": [395, 410], "nice": false, "zero": false},
      "axis": {"title": "CO2 (ppm)", "values": [395,396,397,398,399,400,401,402,403,404,405,406,407,408,409,410], "labelExpr": "datum.value % 5 === 0 ? datum.label : ''", "gridOpacity": {"condition": {"test": "datum.value === 400 || datum.value === 405", "value": 1}, "value": 0}}},
    "y": {"field": "alt", "type": "quantitative", "scale": {"domain": [0, 14], "nice": false, "zero": false},
      "axis": {"title": null, "values": [0,2,4,6,8,10,12,14], "gridOpacity": {"condition": {"test": "datum.value > 0 && datum.value < 14", "value": 1}, "value": 0}}},
    "color": {"field": "s", "type": "nominal", "scale": {"domain": ["a", "b"], "range": ["#1c1cff", "#ff1c1c"]}, "legend": null}
   }},
  {"data": {"name": "labels"}, "transform": [{"filter": "datum.p === 2"}],
   "mark": {"type": "text", "align": "left", "baseline": "top", "dx": 1, "dy": 7, "font": "Liberation Serif", "fontSize": 31, "color": "#1a1a1a"},
   "encoding": {
    "x": {"datum": 395, "type": "quantitative", "axis": {"title": "CO2 (ppm)", "values": [395,396,397,398,399,400,401,402,403,404,405,406,407,408,409,410], "labelExpr": "datum.value % 5 === 0 ? datum.label : ''", "gridOpacity": {"condition": {"test": "datum.value === 400 || datum.value === 405", "value": 1}, "value": 0}}},
    "y": {"datum": 14, "type": "quantitative", "axis": {"title": null, "values": [0,2,4,6,8,10,12,14], "gridOpacity": {"condition": {"test": "datum.value > 0 && datum.value < 14", "value": 1}, "value": 0}}},
    "text": {"field": "lab"}}}
 ]
},
{
 "title": "SIN 2015/10/8", "width": 253, "height": 519,
 "layer": [
  {"data": {"name": "profiles"}, "transform": [{"filter": "datum.p === 3"}],
   "mark": {"type": "circle", "size": 32, "opacity": 1, "clip": true},
   "encoding": {
    "x": {"field": "co2", "type": "quantitative", "scale": {"domain": [395, 410], "nice": false, "zero": false},
      "axis": {"title": "CO2 (ppm)", "values": [395,396,397,398,399,400,401,402,403,404,405,406,407,408,409,410], "labelExpr": "datum.value % 5 === 0 ? datum.label : ''", "gridOpacity": {"condition": {"test": "datum.value === 400 || datum.value === 405", "value": 1}, "value": 0}}},
    "y": {"field": "alt", "type": "quantitative", "scale": {"domain": [0, 14], "nice": false, "zero": false},
      "axis": {"title": null, "values": [0,2,4,6,8,10,12,14], "gridOpacity": {"condition": {"test": "datum.value > 0 && datum.value < 14", "value": 1}, "value": 0}}},
    "color": {"field": "s", "type": "nominal", "scale": {"domain": ["a", "b"], "range": ["#1c1cff", "#ff1c1c"]}, "legend": null}
   }},
  {"data": {"name": "labels"}, "transform": [{"filter": "datum.p === 3"}],
   "mark": {"type": "text", "align": "left", "baseline": "top", "dx": 1, "dy": 7, "font": "Liberation Serif", "fontSize": 31, "color": "#1a1a1a"},
   "encoding": {
    "x": {"datum": 395, "type": "quantitative", "axis": {"title": "CO2 (ppm)", "values": [395,396,397,398,399,400,401,402,403,404,405,406,407,408,409,410], "labelExpr": "datum.value % 5 === 0 ? datum.label : ''", "gridOpacity": {"condition": {"test": "datum.value === 400 || datum.value === 405", "value": 1}, "value": 0}}},
    "y": {"datum": 14, "type": "quantitative", "axis": {"title": null, "values": [0,2,4,6,8,10,12,14], "gridOpacity": {"condition": {"test": "datum.value > 0 && datum.value < 14", "value": 1}, "value": 0}}},
    "text": {"field": "lab"}}}
 ]
},
{
 "title": "SIN 2015/10/15", "width": 253, "height": 519,
 "layer": [
  {"data": {"name": "profiles"}, "transform": [{"filter": "datum.p === 4"}],
   "mark": {"type": "circle", "size": 32, "opacity": 1, "clip": true},
   "encoding": {
    "x": {"field": "co2", "type": "quantitative", "scale": {"domain": [395, 410], "nice": false, "zero": false},
      "axis": {"title": "CO2 (ppm)", "values": [395,396,397,398,399,400,401,402,403,404,405,406,407,408,409,410], "labelExpr": "datum.value % 5 === 0 ? datum.label : ''", "gridOpacity": {"condition": {"test": "datum.value === 400 || datum.value === 405", "value": 1}, "value": 0}}},
    "y": {"field": "alt", "type": "quantitative", "scale": {"domain": [0, 14], "nice": false, "zero": false},
      "axis": {"title": null, "values": [0,2,4,6,8,10,12,14], "gridOpacity": {"condition": {"test": "datum.value > 0 && datum.value < 14", "value": 1}, "value": 0}}},
    "color": {"field": "s", "type": "nominal", "scale": {"domain": ["a", "b"], "range": ["#1c1cff", "#ff1c1c"]}, "legend": null}
   }},
  {"data": {"name": "labels"}, "transform": [{"filter": "datum.p === 4"}],
   "mark": {"type": "text", "align": "left", "baseline": "top", "dx": 1, "dy": 7, "font": "Liberation Serif", "fontSize": 31, "color": "#1a1a1a"},
   "encoding": {
    "x": {"datum": 395, "type": "quantitative", "axis": {"title": "CO2 (ppm)", "values": [395,396,397,398,399,400,401,402,403,404,405,406,407,408,409,410], "labelExpr": "datum.value % 5 === 0 ? datum.label : ''", "gridOpacity": {"condition": {"test": "datum.value === 400 || datum.value === 405", "value": 1}, "value": 0}}},
    "y": {"datum": 14, "type": "quantitative", "axis": {"title": null, "values": [0,2,4,6,8,10,12,14], "gridOpacity": {"condition": {"test": "datum.value > 0 && datum.value < 14", "value": 1}, "value": 0}}},
    "text": {"field": "lab"}}}
 ]
},
{
 "title": "SIN 2015/10/19", "width": 253, "height": 519,
 "layer": [
  {"data": {"name": "profiles"}, "transform": [{"filter": "datum.p === 5"}],
   "mark": {"type": "circle", "size": 32, "opacity": 1, "clip": true},
   "encoding": {
    "x": {"field": "co2", "type": "quantitative", "scale": {"domain": [395, 410], "nice": false, "zero": false},
      "axis": {"title": "CO2 (ppm)", "values": [395,396,397,398,399,400,401,402,403,404,405,406,407,408,409,410], "labelExpr": "datum.value % 5 === 0 ? datum.label : ''", "gridOpacity": {"condition": {"test": "datum.value === 400 || datum.value === 405", "value": 1}, "value": 0}}},
    "y": {"field": "alt", "type": "quantitative", "scale": {"domain": [0, 14], "nice": false, "zero": false},
      "axis": {"title": null, "values": [0,2,4,6,8,10,12,14], "gridOpacity": {"condition": {"test": "datum.value > 0 && datum.value < 14", "value": 1}, "value": 0}}},
    "color": {"field": "s", "type": "nominal", "scale": {"domain": ["a", "b"], "range": ["#1c1cff", "#ff1c1c"]}, "legend": null}
   }},
  {"data": {"name": "labels"}, "transform": [{"filter": "datum.p === 5"}],
   "mark": {"type": "text", "align": "left", "baseline": "top", "dx": 1, "dy": 7, "font": "Liberation Serif", "fontSize": 31, "color": "#1a1a1a"},
   "encoding": {
    "x": {"datum": 395, "type": "quantitative", "axis": {"title": "CO2 (ppm)", "values": [395,396,397,398,399,400,401,402,403,404,405,406,407,408,409,410], "labelExpr": "datum.value % 5 === 0 ? datum.label : ''", "gridOpacity": {"condition": {"test": "datum.value === 400 || datum.value === 405", "value": 1}, "value": 0}}},
    "y": {"datum": 14, "type": "quantitative", "axis": {"title": null, "values": [0,2,4,6,8,10,12,14], "gridOpacity": {"condition": {"test": "datum.value > 0 && datum.value < 14", "value": 1}, "value": 0}}},
    "text": {"field": "lab"}}},
  {"data": {"values": [{"t": "10"}]},
   "mark": {"type": "text", "align": "center", "baseline": "alphabetic", "font": "Open Sans", "fontSize": 27, "color": "#8a8a8a"},
   "encoding": {
    "x": {"datum": 410.05, "type": "quantitative", "axis": {"title": "CO2 (ppm)", "values": [395,396,397,398,399,400,401,402,403,404,405,406,407,408,409,410], "labelExpr": "datum.value % 5 === 0 ? datum.label : ''", "gridOpacity": {"condition": {"test": "datum.value === 400 || datum.value === 405", "value": 1}, "value": 0}}},
    "y": {"datum": -1.85, "type": "quantitative", "axis": {"title": null, "values": [0,2,4,6,8,10,12,14], "gridOpacity": {"condition": {"test": "datum.value > 0 && datum.value < 14", "value": 1}, "value": 0}}},
    "text": {"field": "t"}}}
 ]
}
]
}
